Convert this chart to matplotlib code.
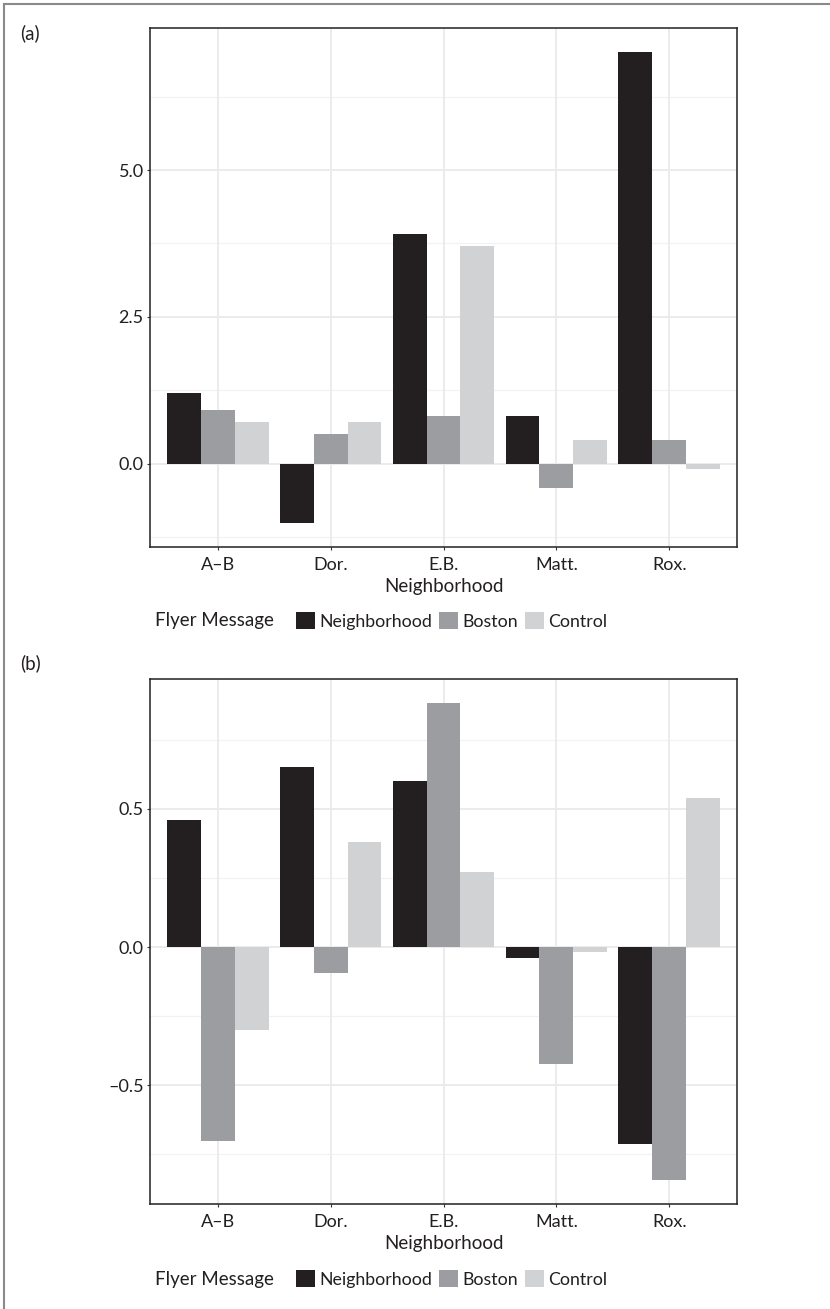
import numpy as np
import matplotlib
matplotlib.use("Agg")
import matplotlib.pyplot as plt
from matplotlib.patches import Patch
from matplotlib.lines import Line2D

plt.rcParams['font.family'] = ['Lato', 'DejaVu Sans']

# datos
barrios = ['A–B', 'Dor.', 'E.B.', 'Matt.', 'Rox.']
mensajes = ['Neighborhood', 'Boston', 'Control']
colores = ['#231f20', '#9c9da1', '#d1d2d4']

# panel (a)
a_neighborhood = [1.20, -1.02, 3.92, 0.81, 7.02]
a_boston = [0.91, 0.50, 0.81, -0.41, 0.40]
a_control = [0.71, 0.71, 3.71, 0.40, -0.10]
a_ticks = [0.0, 2.5, 5.0]
a_ticklabels = ['0.0', '2.5', '5.0']
a_minor = [-1.25, 1.25, 3.75, 6.25]

# panel (b)
b_neighborhood = [0.46, 0.652, 0.601, -0.041, -0.713]
b_boston = [-0.703, -0.092, 0.884, -0.421, -0.843]
b_control = [-0.301, 0.381, 0.272, -0.019, 0.54]
b_ticks = [-0.5, 0.0, 0.5]
b_ticklabels = ['–0.5', '0.0', '0.5']
b_minor = [-0.75, -0.25, 0.25, 0.75]

W, H = 830, 1309
fig = plt.figure(figsize=(W / 100, H / 100), dpi=100)

# borde de la figura (solo arriba e izquierda)
fig.add_artist(Line2D([4 / W, 4 / W], [0, 1 - 4 / H], color='#8a8a8a', lw=1.5))
fig.add_artist(Line2D([4 / W, 1], [1 - 4 / H, 1 - 4 / H], color='#8a8a8a', lw=1.5))

TXT = '#231f20'
FS = 13.5
FS_LEG = 12.8
FS_TICK = 13


def panel(top, bottom, series, ticks, ticklabels, minor, letra, y_letra, y_ley):
    ax = fig.add_axes([150 / W, 1 - bottom / H, (737 - 150) / W, (bottom - top) / H])
    x = np.arange(len(barrios))
    ancho = 0.3
    for j, vals in enumerate(series):
        ax.bar(x + (j - 1) * ancho, vals, width=ancho, color=colores[j], zorder=3)
    todos = np.concatenate(series)
    lo, hi = todos.min(), todos.max()
    pad = 0.05 * (hi - lo)
    ax.set_ylim(lo - pad, hi + pad)
    ax.set_xlim(-0.6, len(barrios) - 0.4)

    # rejilla
    for v in ticks:
        ax.axhline(v, color='#ebebeb', lw=1.4, zorder=1)
    for v in minor:
        ax.axhline(v, color='#f2f2f2', lw=0.9, zorder=1)
    for xi in x:
        ax.axvline(xi, color='#ebebeb', lw=1.4, zorder=1)

    ax.set_xticks(x)
    ax.set_xticklabels(barrios)
    ax.set_yticks(ticks)
    ax.set_yticklabels(ticklabels)
    ax.tick_params(length=2.5, width=0.8, color='#333333', labelcolor=TXT,
                   labelsize=FS_TICK)
    ax.tick_params(axis='x', pad=5)
    ax.tick_params(axis='y', pad=2)
    for s in ax.spines.values():
        s.set_color('#231f20')
        s.set_linewidth(1.1)
    ax.set_xlabel('Neighborhood', fontsize=FS, color=TXT, labelpad=3)

    fig.text(20 / W, 1 - y_letra / H, letra, fontsize=FS, color=TXT, va='center')
    fig.text(155 / W, 1 - y_ley / H, 'Flyer Message', fontsize=FS, color=TXT, va='center')
    handles = [Patch(facecolor=c, edgecolor='none') for c in colores]
    fig.legend(handles, mensajes, loc='center left', bbox_to_anchor=(296 / W, 1 - y_ley / H),
               ncol=3, frameon=False, fontsize=FS_LEG, handlelength=1.05, handleheight=1.05,
               handletextpad=0.25, columnspacing=0.4, borderpad=0, borderaxespad=0,
               labelcolor=TXT)
    return ax


panel(28, 547, [a_neighborhood, a_boston, a_control], a_ticks, a_ticklabels, a_minor,
      '(a)', 33, 621)
panel(679, 1204, [b_neighborhood, b_boston, b_control], b_ticks, b_ticklabels, b_minor,
      '(b)', 663, 1279)

fig.savefig('out.png', dpi=100)
